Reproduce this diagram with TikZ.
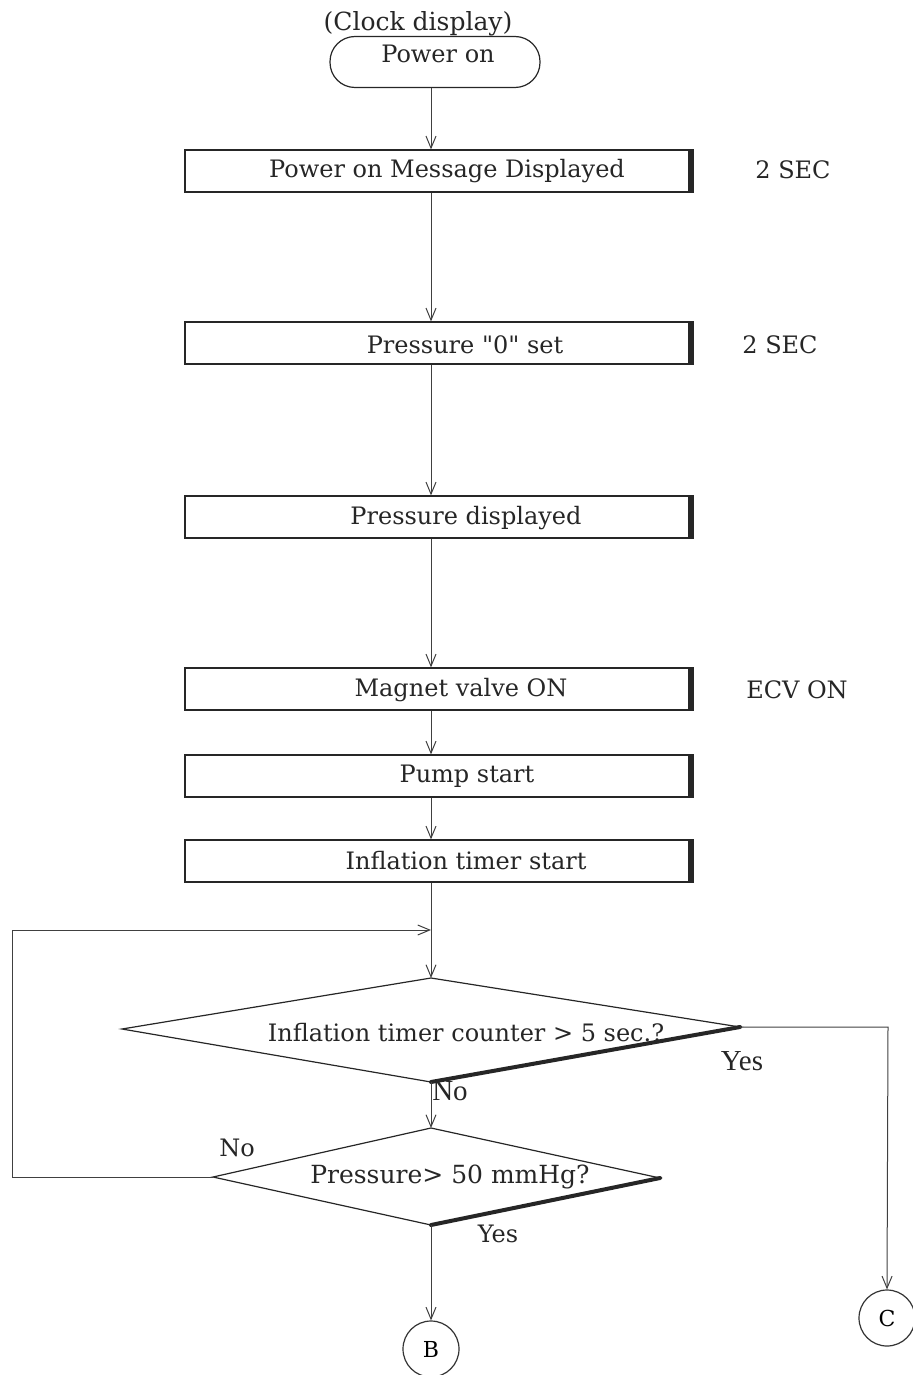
\documentclass[tikz,border=0pt]{standalone}
\usepackage{fontspec}
\setmainfont{DejaVu Serif}[Ligatures=TeXOff]
\newfontfamily\timesf{Liberation Serif}
\usetikzlibrary{arrows.meta,shapes.geometric,calc}
\begin{document}
\begin{tikzpicture}[x=0.5pt,y=-0.5pt,
  procbox/.style={draw=black!85, line width=0.6pt, minimum width=254pt, minimum height=21pt, inner sep=0pt},
  bar/.style={line width=3pt, draw=black!85},
  lbl/.style={font=\fontsize{12}{14}\selectfont, inner sep=0pt, text=black!85},
  tlbl/.style={font=\timesf\fontsize{14.5}{16}\selectfont, inner sep=0pt, text=black!85},
  arr/.style={-{Straight Barb[length=6pt,width=5pt]}, line width=0.5pt, draw=black!75},
  conncircle/.style={draw=black!80, line width=0.6pt, circle, minimum size=28pt, inner sep=0pt, font=\fontsize{11}{13}\selectfont},
  dia/.style={draw=black!85, line width=0.6pt, line join=miter},
  thick edge/.style={draw=black!85, line width=2pt, line cap=round}
]
\useasboundingbox (0,0) rectangle (912,1375);
\coordinate (X) at (431,0);

% start terminal
\node[lbl, font=\fontsize{12.5}{14}\selectfont] (clock) at (418,24) {(Clock display)};
\node[draw=black!85, line width=0.6pt, rounded corners=12.5pt, minimum width=105pt, minimum height=25.5pt, inner sep=0pt] (pon) at (435,62) {};
\node[lbl] (pontxt) at (438,54) {Power on};

% process boxes
\node[procbox] (b1) at (439,171) {};
\node[procbox] (b2) at (439,343) {};
\node[procbox] (b3) at (439,517) {};
\node[procbox] (b4) at (439,689) {};
\node[procbox] (b5) at (439,776) {};
\node[procbox] (b6) at (439,861) {};
\foreach \b in {b1,b2,b3,b4,b5,b6}{
  \draw[bar] ([xshift=-1.5pt]\b.north east) -- ([xshift=-1.5pt]\b.south east);
}
\node[lbl] (t1) at (447,171) {Power on Message Displayed};
\node[lbl] (t2) at (465,345) {Pressure "0" set};
\node[lbl] (t3) at (466,518) {Pressure displayed};
\node[lbl] (t4) at (461,690) {Magnet valve ON};
\node[lbl] (t5) at (467,776) {Pump start};
\node[lbl] (t6) at (466,861) {Inflation timer start};

\node[lbl] (s1) at (793,170) {2 SEC};
\node[lbl] (s2) at (780,345) {2 SEC};
\node[lbl] (s4) at (797,690) {ECV ON};

% diamond 1
\coordinate (d1t) at (431,978);
\coordinate (d1l) at (122,1029);
\coordinate (d1r) at (740,1027);
\coordinate (d1b) at (431,1082);
\draw[dia] (d1t) -- (d1r) -- (d1b) -- (d1l) -- cycle;
\draw[thick edge] (d1r) -- (d1b);
\node[lbl] (d1txt) at (466,1033) {Inflation timer counter > 5 sec.?};

% diamond 2
\coordinate (d2t) at (431,1128);
\coordinate (d2l) at (213,1177);
\coordinate (d2r) at (660,1178);
\coordinate (d2b) at (431,1225);
\draw[dia] (d2t) -- (d2r) -- (d2b) -- (d2l) -- cycle;
\draw[thick edge] (d2r) -- (d2b);
\node[lbl, font=\fontsize{12.5}{14}\selectfont] (d2txt) at (450,1177) {Pressure> 50 mmHg?};

% connectors
\node[conncircle] (B) at (431,1349) {B};
\node[conncircle] (C) at (887,1318) {C};
\coordinate (join) at (431,930);
\coordinate (loopTL) at (12,930);
\coordinate (loopBL) at (12,1177);
\coordinate (cR) at (888,1027);

\draw[arr] (pon.south -| X) -- (b1.north -| X);
\draw[arr] (b1.south -| X) -- (b2.north -| X);
\draw[arr] (b2.south -| X) -- (b3.north -| X);
\draw[arr] (b3.south -| X) -- (b4.north -| X);
\draw[arr] (b4.south -| X) -- (b5.north -| X);
\draw[arr] (b5.south -| X) -- (b6.north -| X);
\draw[arr] (b6.south -| X) -- (d1t);
\draw[arr] (d2l) -- (loopBL) -- (loopTL) -- (join);
\draw[arr] (d1b) -- (d2t);
\draw[arr] (d1r) -- (cR) -- (C.north);
\draw[arr] (d2b) -- (B.north);

% branch labels
\node[tlbl] (yes1) at (742,1061) {Yes};
\node[tlbl] (no1) at (450,1091) {No};
\node[lbl] (no2) at (237,1148) {No};
\node[lbl] (yes2) at (498,1234) {Yes};
\end{tikzpicture}
\end{document}
